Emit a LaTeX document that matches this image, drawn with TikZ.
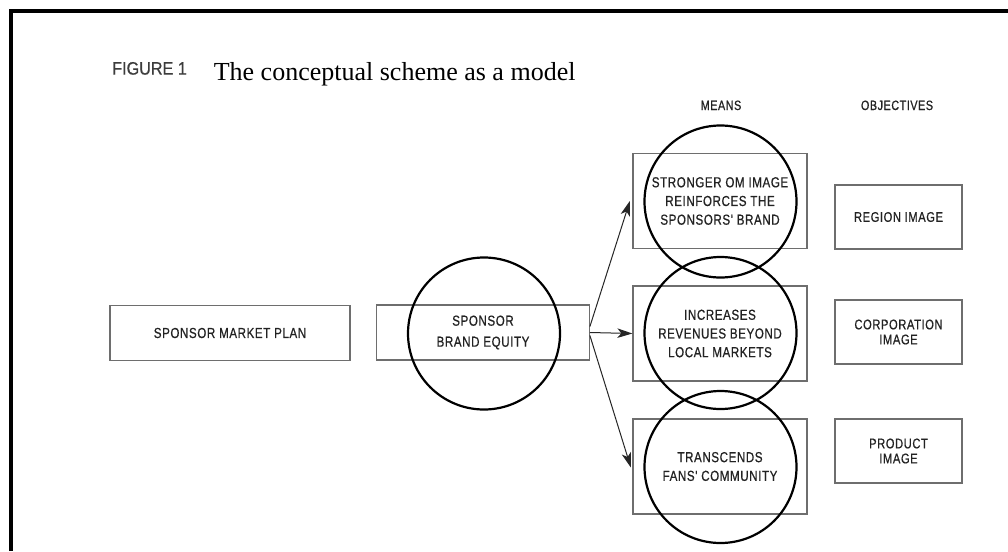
\documentclass[tikz,border=0pt]{standalone}
\usepackage{fontspec}
\setmainfont{Liberation Serif}
\newfontfamily\lab[FakeStretch=0.8,FakeBold=0.6,LetterSpace=4]{Liberation Sans}
\newfontfamily\figlab[FakeStretch=0.9,FakeBold=0.5]{Liberation Sans}
\usetikzlibrary{arrows.meta}
\definecolor{boxgray}{HTML}{6E6E6E}
\definecolor{txt}{HTML}{222222}
\definecolor{figgray}{HTML}{3C3C3C}
\begin{document}
\begin{tikzpicture}[x=1pt,y=-1pt,
  box/.style={draw=boxgray, line width=1.3pt, inner sep=0pt, align=center, text=txt},
  means/.style={box, minimum width=174pt, minimum height=95pt, font=\lab\fontsize{14.5}{18.7}\selectfont},
  objbox/.style={box, minimum width=127pt, minimum height=64pt, font=\lab\fontsize{14}{15}\selectfont},
  ring/.style={draw=black, line width=2.2pt, circle, inner sep=0pt, minimum size=152pt},
  hdr/.style={anchor=base, text=txt, font=\lab\fontsize{13.5}{16}\selectfont},
  arr/.style={draw=black!85, line width=1pt, -{Stealth[length=15pt, width=9.5pt, inset=4pt]}}
]
\useasboundingbox (0,0) rectangle (1008,551);
\fill[white] (0,0) rectangle (1008,551);
% frame
\draw[line width=4pt, black] (10.7,551) -- (10.7,10.7) -- (1008,10.7);

% title
\node[anchor=base west, inner sep=0pt, text=figgray, font=\figlab\fontsize{18}{20}\selectfont] (fig) at (112,74.6) {FIGURE 1};
\node[anchor=base west, inner sep=0pt, font=\fontsize{26}{30}\selectfont] (title) at (213.6,81) {The conceptual scheme as a model};

% headers
\node[hdr] (hmeans) at (721,110) {MEANS};
\node[hdr] (hobj) at (897,110) {OBJECTIVES};

% left boxes
\node[box, minimum width=240pt, minimum height=55.5pt, font=\lab\fontsize{14.5}{18}\selectfont] (plan) at (230,333) {SPONSOR MARKET PLAN};
\node[box, minimum width=212.5pt, minimum height=55pt, font=\lab\fontsize{14.5}{21}\selectfont] (be) at (483,332.5) {SPONSOR\\BRAND EQUITY};
\node[ring, minimum width=152pt, minimum height=151pt] (cbe) at (484,333.5) {};

% means boxes
\node[means] (m1) at (720,201) {STRONGER OM IMAGE\\REINFORCES THE\\SPONSORS' BRAND};
\node[means] (m2) at (720,333.5) {INCREASES\\REVENUES BEYOND\\LOCAL MARKETS};
\node[means] (m3) at (720,466.5) {TRANSCENDS\\FANS' COMMUNITY};
\node[ring] (c1) at (720.5,201.5) {};
\node[ring] (c2) at (720.5,333) {};
\node[ring] (c3) at (720.5,467) {};

% objectives
\node[objbox] (o1) at (898.5,217) {REGION IMAGE};
\node[objbox] (o2) at (898.5,332) {CORPORATION\\IMAGE};
\node[objbox] (o3) at (898.5,451) {PRODUCT\\IMAGE};

% arrows
\draw[arr] ([yshift=6pt]be.east) -- ([xshift=-2.5pt]m1.west);
\draw[arr] (be.east) -- (m2.west);
\draw[arr] ([yshift=-3pt]be.east) -- ([xshift=-1.5pt,yshift=-1pt]m3.west);
\end{tikzpicture}
\end{document}
